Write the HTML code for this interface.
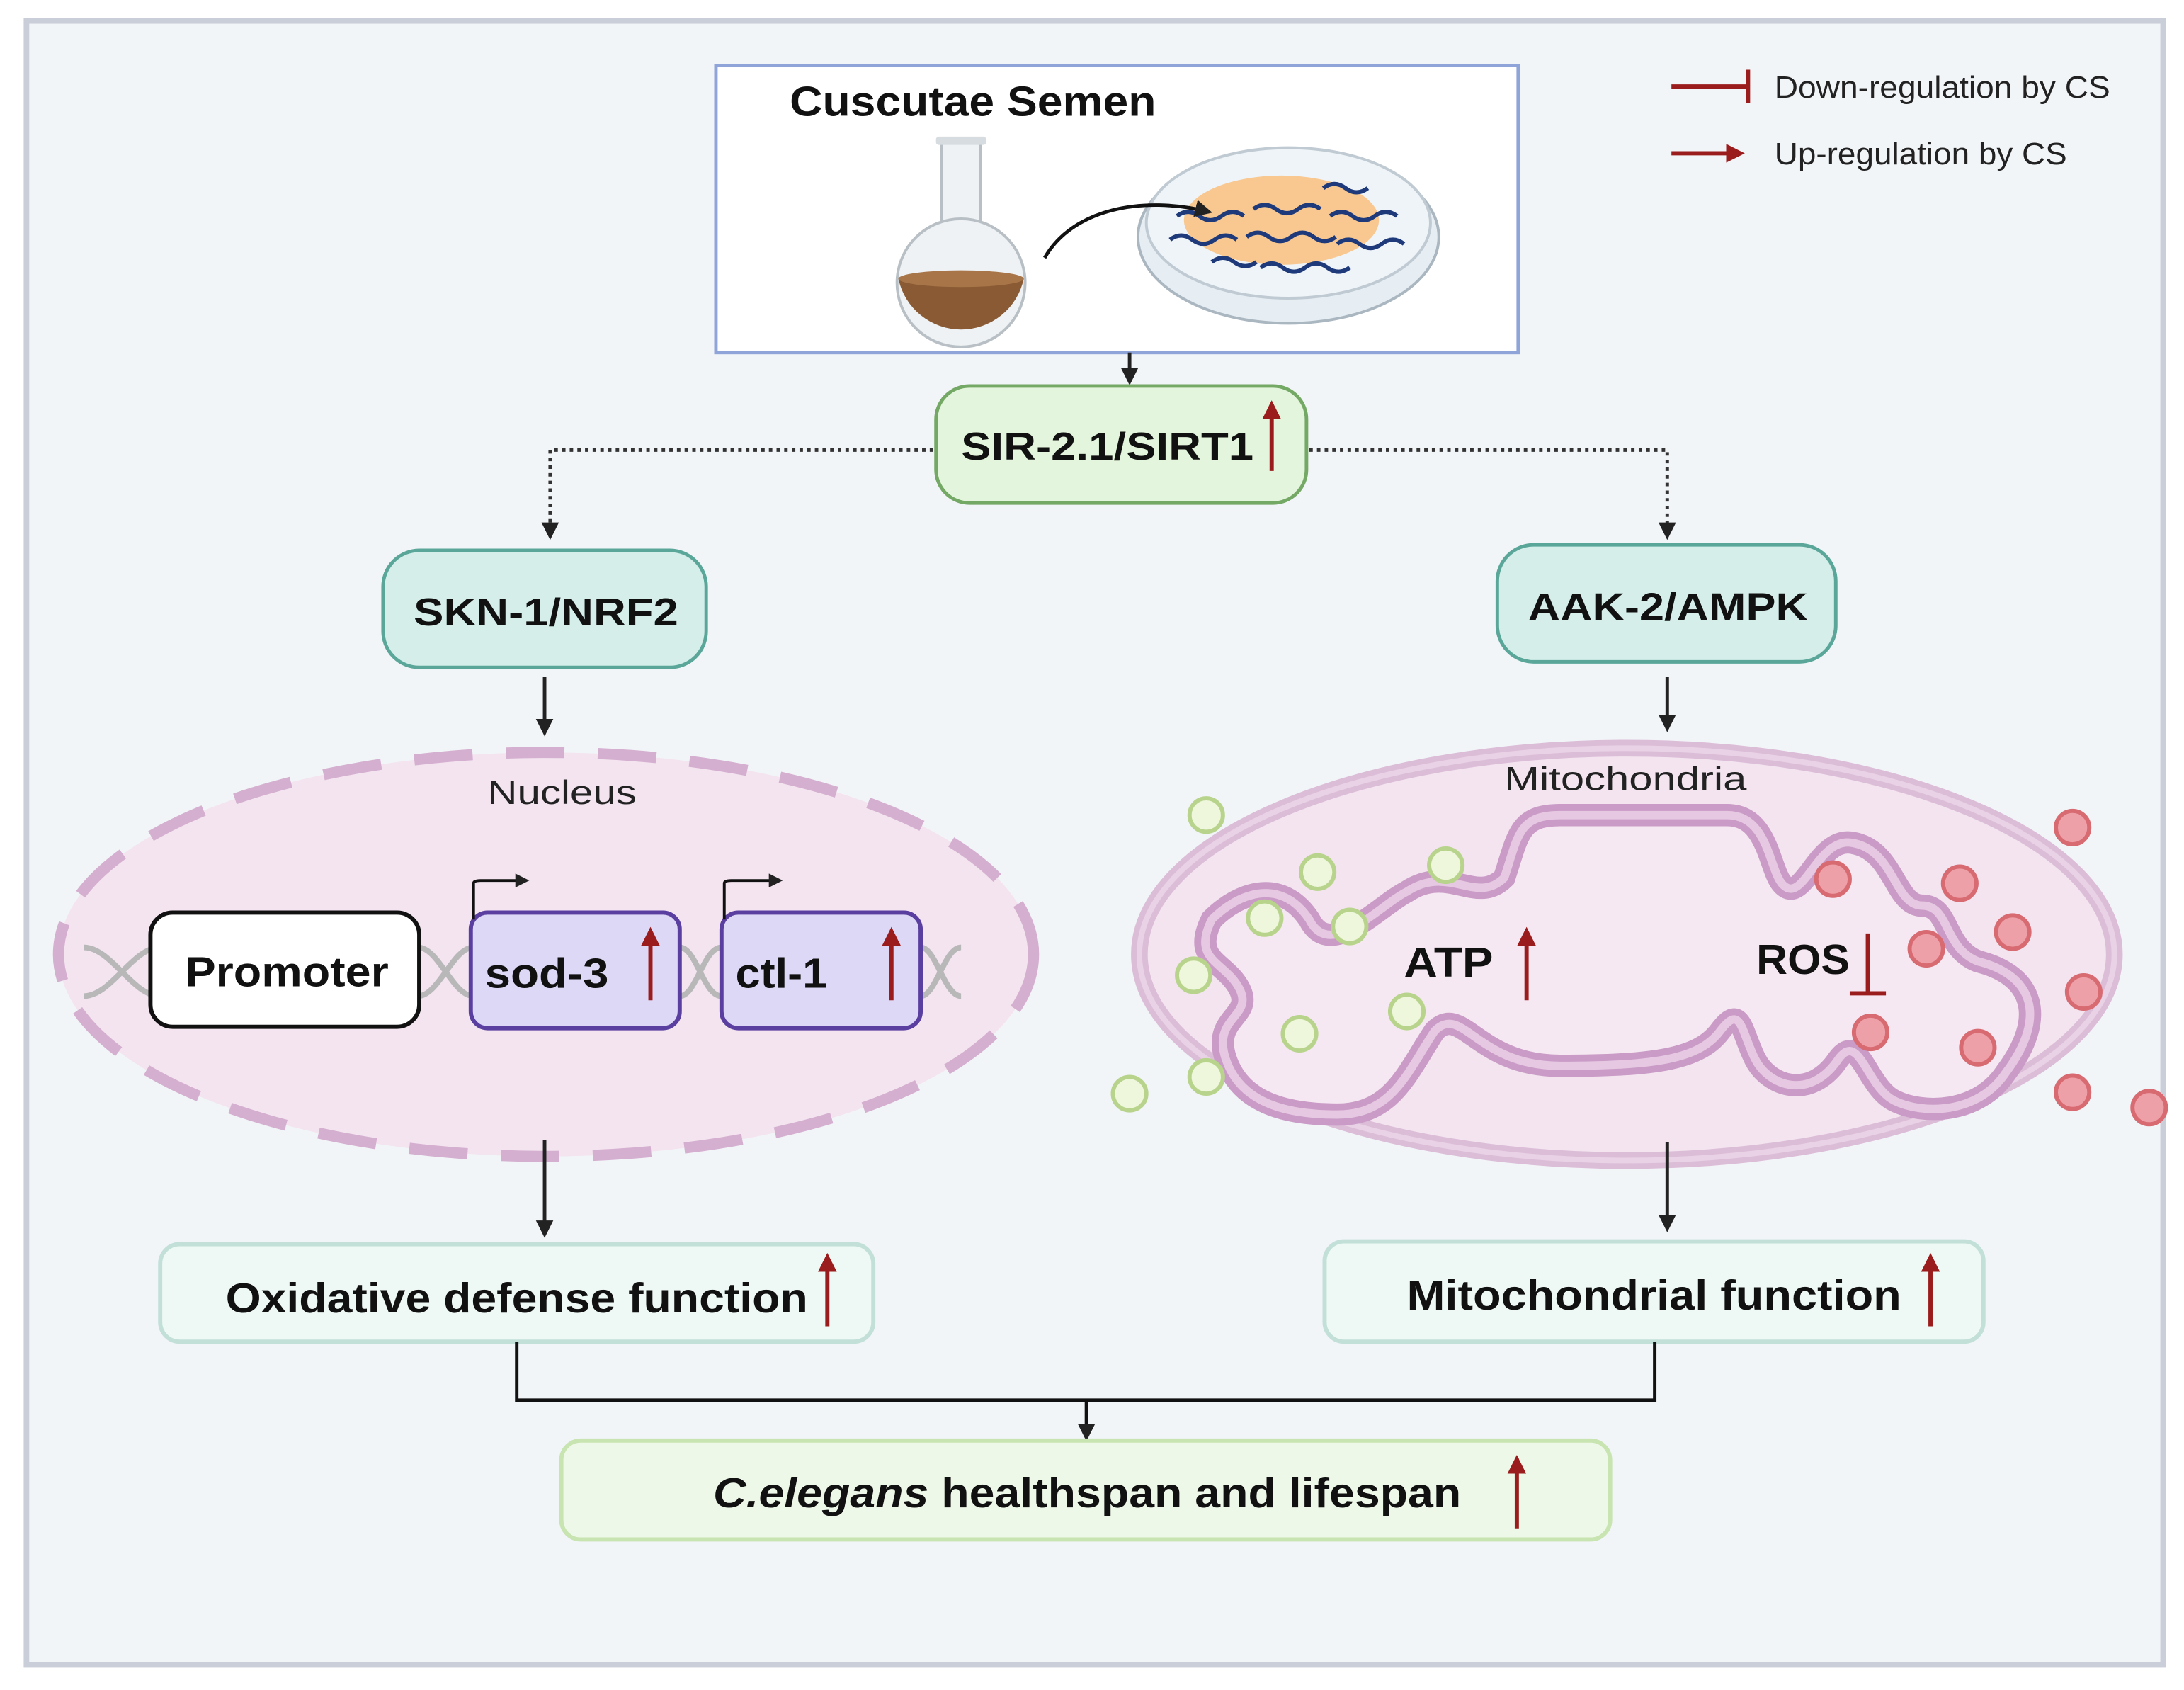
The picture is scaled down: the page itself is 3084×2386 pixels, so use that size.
<!DOCTYPE html>
<html><head><meta charset="utf-8"><style>
html,body{margin:0;padding:0;background:#fff}
svg{display:block}
text{font-family:"Liberation Sans",Arial,sans-serif}
</style></head><body>
<svg width="3084" height="2386" viewBox="0 0 1568 1213" xmlns="http://www.w3.org/2000/svg">
<defs>
<marker id="ah" viewBox="0 0 10 10" refX="8" refY="5" markerWidth="5" markerHeight="5" orient="auto"><path d="M0,0 L10,5 L0,10 z" fill="#222"/></marker>
<marker id="ar" viewBox="0 0 10 10" refX="8" refY="5" markerWidth="4.5" markerHeight="4.5" orient="auto"><path d="M0,0 L10,5 L0,10 z" fill="#9b1c1c"/></marker>
</defs>
<rect x="0" y="0" width="1568" height="1213" fill="#fff"/>
<rect x="19" y="15" width="1534" height="1180" fill="#f2f5f8" stroke="#c9ced8" stroke-width="4"/>

<!-- Legend -->
<line x1="1200" y1="62" x2="1255" y2="62" stroke="#9b1c1c" stroke-width="3"/>
<line x1="1255" y1="50" x2="1255" y2="74" stroke="#9b1c1c" stroke-width="3"/>
<text x="1274" y="70" font-size="22" fill="#222" textLength="241" lengthAdjust="spacingAndGlyphs">Down-regulation by CS</text>
<line x1="1200" y1="110" x2="1250" y2="110" stroke="#9b1c1c" stroke-width="3" marker-end="url(#ar)"/>
<text x="1274" y="118" font-size="22" fill="#222" textLength="210" lengthAdjust="spacingAndGlyphs">Up-regulation by CS</text>

<!-- Top box -->
<rect x="514" y="47" width="576" height="206" fill="#fff" stroke="#8fa4d8" stroke-width="2.5"/>
<text x="567" y="83" font-size="30" font-weight="bold" fill="#111" textLength="263" lengthAdjust="spacingAndGlyphs">Cuscutae Semen</text>
<rect x="676" y="100" width="28" height="68" fill="#eef2f4" stroke="#b8c0c6" stroke-width="2"/>
<circle cx="690" cy="203" r="46" fill="#eef2f4" stroke="#b8c0c6" stroke-width="2"/>
<path d="M645,200 A46,46 0 0 0 735,200 Z" fill="#8a5a34"/>
<ellipse cx="690" cy="200" rx="45" ry="6" fill="#a87548"/>
<rect x="672" y="98" width="36" height="6" rx="2" fill="#d6dce0"/>
<ellipse cx="925" cy="170" rx="108" ry="62" fill="#e6eef4" stroke="#aab6c0" stroke-width="2"/>
<ellipse cx="925" cy="160" rx="102" ry="54" fill="#eef4f8" stroke="#c0cad2" stroke-width="2"/>
<ellipse cx="920" cy="158" rx="70" ry="32" fill="#f8c890"/>
<g fill="none" stroke="#1f3a7a" stroke-width="3">
<path d="M845,155 q8,-6 16,0 t16,0 t16,0"/>
<path d="M900,150 q8,-6 16,0 t16,0 t16,0"/>
<path d="M955,155 q8,-6 16,0 t16,0 t16,0"/>
<path d="M840,172 q8,-6 16,0 t16,0 t16,0"/>
<path d="M895,170 q8,-6 16,0 t16,0 t16,0 t16,0"/>
<path d="M960,175 q8,-6 16,0 t16,0 t16,0"/>
<path d="M870,188 q8,-6 16,0 t16,0"/>
<path d="M905,192 q8,-6 16,0 t16,0 t16,0 t16,0"/>
<path d="M950,135 q8,-6 16,0 t16,0"/>
</g>
<path d="M750,185 C770,150 820,140 868,152" fill="none" stroke="#111" stroke-width="2.5" marker-end="url(#ah)"/>

<line x1="811" y1="253" x2="811" y2="274" stroke="#222" stroke-width="2.5" marker-end="url(#ah)"/>
<rect x="672" y="277" width="266" height="84" rx="24" fill="#e3f5dc" stroke="#74a865" stroke-width="2.5"/>
<text x="690" y="330" font-size="28" font-weight="bold" fill="#111" textLength="210" lengthAdjust="spacingAndGlyphs">SIR-2.1/SIRT1</text>
<line x1="913" y1="338" x2="913" y2="290" stroke="#9b1c1c" stroke-width="3" marker-end="url(#ar)"/>

<path d="M670,323 H395 V385" fill="none" stroke="#333" stroke-width="2.5" stroke-dasharray="2.5,3" marker-end="url(#ah)"/>
<path d="M940,323 H1197 V385" fill="none" stroke="#333" stroke-width="2.5" stroke-dasharray="2.5,3" marker-end="url(#ah)"/>

<rect x="275" y="395" width="232" height="84" rx="26" fill="#d5eeea" stroke="#5aa79a" stroke-width="2.5"/>
<text x="297" y="449" font-size="28" font-weight="bold" fill="#111" textLength="190" lengthAdjust="spacingAndGlyphs">SKN-1/NRF2</text>
<rect x="1075" y="391" width="243" height="84" rx="26" fill="#d5eeea" stroke="#5aa79a" stroke-width="2.5"/>
<text x="1097" y="445" font-size="28" font-weight="bold" fill="#111" textLength="201" lengthAdjust="spacingAndGlyphs">AAK-2/AMPK</text>

<line x1="391" y1="486" x2="391" y2="526" stroke="#222" stroke-width="2.5" marker-end="url(#ah)"/>
<line x1="1197" y1="486" x2="1197" y2="523" stroke="#222" stroke-width="2.5" marker-end="url(#ah)"/>

<!-- Nucleus -->
<ellipse cx="392" cy="685" rx="350" ry="145" fill="#f3e4ef" stroke="#d5afd0" stroke-width="8" stroke-dasharray="42,24"/>
<text x="350" y="577" font-size="24" fill="#222" textLength="107" lengthAdjust="spacingAndGlyphs">Nucleus</text>
<g fill="none" stroke="#b8b8b8" stroke-width="4">
<path d="M60,680 C80,680 95,715 115,715 M60,715 C80,715 95,680 115,680"/>
<path d="M300,680 C315,680 325,715 340,715 M300,715 C315,715 325,680 340,680"/>
<path d="M488,680 C500,680 505,715 518,715 M488,715 C500,715 505,680 518,680"/>
<path d="M661,680 C672,680 678,715 690,715 M661,715 C672,715 678,680 690,680"/>
</g>
<rect x="108" y="655" width="193" height="82" rx="16" fill="#fff" stroke="#111" stroke-width="3"/>
<text x="133" y="708" font-size="30" font-weight="bold" fill="#111" textLength="146" lengthAdjust="spacingAndGlyphs">Promoter</text>
<rect x="338" y="655" width="150" height="83" rx="12" fill="#ddd8f5" stroke="#5a3fa0" stroke-width="3"/>
<text x="348" y="709" font-size="30" font-weight="bold" fill="#111" textLength="89" lengthAdjust="spacingAndGlyphs">sod-3</text>
<line x1="467" y1="718" x2="467" y2="668" stroke="#9b1c1c" stroke-width="3" marker-end="url(#ar)"/>
<rect x="518" y="655" width="143" height="83" rx="12" fill="#ddd8f5" stroke="#5a3fa0" stroke-width="3"/>
<text x="528" y="709" font-size="30" font-weight="bold" fill="#111" textLength="66" lengthAdjust="spacingAndGlyphs">ctl-1</text>
<line x1="640" y1="718" x2="640" y2="668" stroke="#9b1c1c" stroke-width="3" marker-end="url(#ar)"/>
<path d="M340,660 V634 Q340,632 345,632 H378" fill="none" stroke="#111" stroke-width="2" marker-end="url(#ah)"/>
<path d="M520,660 V634 Q520,632 525,632 H560" fill="none" stroke="#111" stroke-width="2" marker-end="url(#ah)"/>

<!-- Mitochondria -->
<ellipse cx="1168" cy="685" rx="350" ry="148" fill="#f3e4ef" stroke="#dcbdd8" stroke-width="12"/>
<ellipse cx="1168" cy="685" rx="350" ry="148" fill="none" stroke="#e9d2e6" stroke-width="4"/>
<path id="im" d="M870,660 C890,640 920,630 940,660 C955,690 990,650 1010,640 C1040,620 1060,650 1080,630 C1090,600 1090,585 1120,585 L1240,585 C1270,585 1270,625 1280,635 C1295,650 1305,600 1330,605 C1360,610 1360,650 1380,650 C1400,650 1395,680 1420,690 C1460,700 1470,730 1440,770 C1420,800 1380,800 1360,790 C1340,780 1335,740 1320,760 C1300,790 1270,780 1260,760 C1250,740 1250,720 1235,740 C1220,760 1190,765 1120,765 C1060,765 1050,720 1030,740 C1010,770 1000,800 960,800 C920,800 890,790 880,760 C870,730 900,730 890,710 C880,690 855,690 870,660 Z" fill="#f6e8f2" stroke="#c99bc6" stroke-width="16"/>
<path d="M870,660 C890,640 920,630 940,660 C955,690 990,650 1010,640 C1040,620 1060,650 1080,630 C1090,600 1090,585 1120,585 L1240,585 C1270,585 1270,625 1280,635 C1295,650 1305,600 1330,605 C1360,610 1360,650 1380,650 C1400,650 1395,680 1420,690 C1460,700 1470,730 1440,770 C1420,800 1380,800 1360,790 C1340,780 1335,740 1320,760 C1300,790 1270,780 1260,760 C1250,740 1250,720 1235,740 C1220,760 1190,765 1120,765 C1060,765 1050,720 1030,740 C1010,770 1000,800 960,800 C920,800 890,790 880,760 C870,730 900,730 890,710 C880,690 855,690 870,660 Z" fill="none" stroke="#e6c8e2" stroke-width="6"/>
<text x="1080" y="567" font-size="24" fill="#222" textLength="174" lengthAdjust="spacingAndGlyphs">Mitochondria</text>
<text x="1008" y="701" font-size="30" font-weight="bold" fill="#111" textLength="64" lengthAdjust="spacingAndGlyphs">ATP</text>
<line x1="1096" y1="718" x2="1096" y2="668" stroke="#9b1c1c" stroke-width="3" marker-end="url(#ar)"/>
<text x="1261" y="699" font-size="30" font-weight="bold" fill="#111" textLength="67" lengthAdjust="spacingAndGlyphs">ROS</text>
<line x1="1341" y1="670" x2="1341" y2="713" stroke="#9b1c1c" stroke-width="3"/>
<line x1="1328" y1="713" x2="1354" y2="713" stroke="#9b1c1c" stroke-width="3"/>
<g fill="#eef6dc" stroke="#b8d48c" stroke-width="3">
<circle cx="866" cy="585" r="12"/><circle cx="946" cy="626" r="12"/><circle cx="1038" cy="621" r="12"/>
<circle cx="908" cy="659" r="12"/><circle cx="969" cy="665" r="12"/><circle cx="857" cy="700" r="12"/>
<circle cx="933" cy="742" r="12"/><circle cx="1010" cy="726" r="12"/><circle cx="866" cy="773" r="12"/>
<circle cx="811" cy="785" r="12"/>
</g>
<g fill="#eea0a8" stroke="#d86a72" stroke-width="3">
<circle cx="1488" cy="594" r="12"/><circle cx="1316" cy="631" r="12"/><circle cx="1407" cy="634" r="12"/>
<circle cx="1445" cy="669" r="12"/><circle cx="1383" cy="681" r="12"/><circle cx="1496" cy="712" r="12"/>
<circle cx="1343" cy="741" r="12"/><circle cx="1420" cy="752" r="12"/><circle cx="1488" cy="784" r="12"/>
<circle cx="1543" cy="795" r="12"/>
</g>

<line x1="391" y1="818" x2="391" y2="886" stroke="#222" stroke-width="2.5" marker-end="url(#ah)"/>
<line x1="1197" y1="820" x2="1197" y2="882" stroke="#222" stroke-width="2.5" marker-end="url(#ah)"/>

<rect x="115" y="893" width="512" height="70" rx="14" fill="#eef8f4" stroke="#c2e0d8" stroke-width="3"/>
<text x="162" y="942" font-size="30" font-weight="bold" fill="#111" textLength="418" lengthAdjust="spacingAndGlyphs">Oxidative defense function</text>
<line x1="594" y1="952" x2="594" y2="902" stroke="#9b1c1c" stroke-width="3" marker-end="url(#ar)"/>
<rect x="951" y="891" width="473" height="72" rx="14" fill="#eef8f4" stroke="#c2e0d8" stroke-width="3"/>
<text x="1010" y="940" font-size="30" font-weight="bold" fill="#111" textLength="355" lengthAdjust="spacingAndGlyphs">Mitochondrial function</text>
<line x1="1386" y1="952" x2="1386" y2="902" stroke="#9b1c1c" stroke-width="3" marker-end="url(#ar)"/>

<path d="M371,963 V1005 H1188 V963" fill="none" stroke="#111" stroke-width="2.5"/>
<line x1="780" y1="1005" x2="780" y2="1032" stroke="#111" stroke-width="2.5" marker-end="url(#ah)"/>

<rect x="403" y="1034" width="753" height="71" rx="14" fill="#eef8e8" stroke="#c8e4b0" stroke-width="3"/>
<text x="512" y="1082" font-size="30" font-weight="bold" fill="#111" textLength="537" lengthAdjust="spacingAndGlyphs"><tspan font-style="italic">C.elegans</tspan> healthspan and lifespan</text>
<line x1="1089" y1="1097" x2="1089" y2="1047" stroke="#9b1c1c" stroke-width="3" marker-end="url(#ar)"/>
</svg>
</body></html>
